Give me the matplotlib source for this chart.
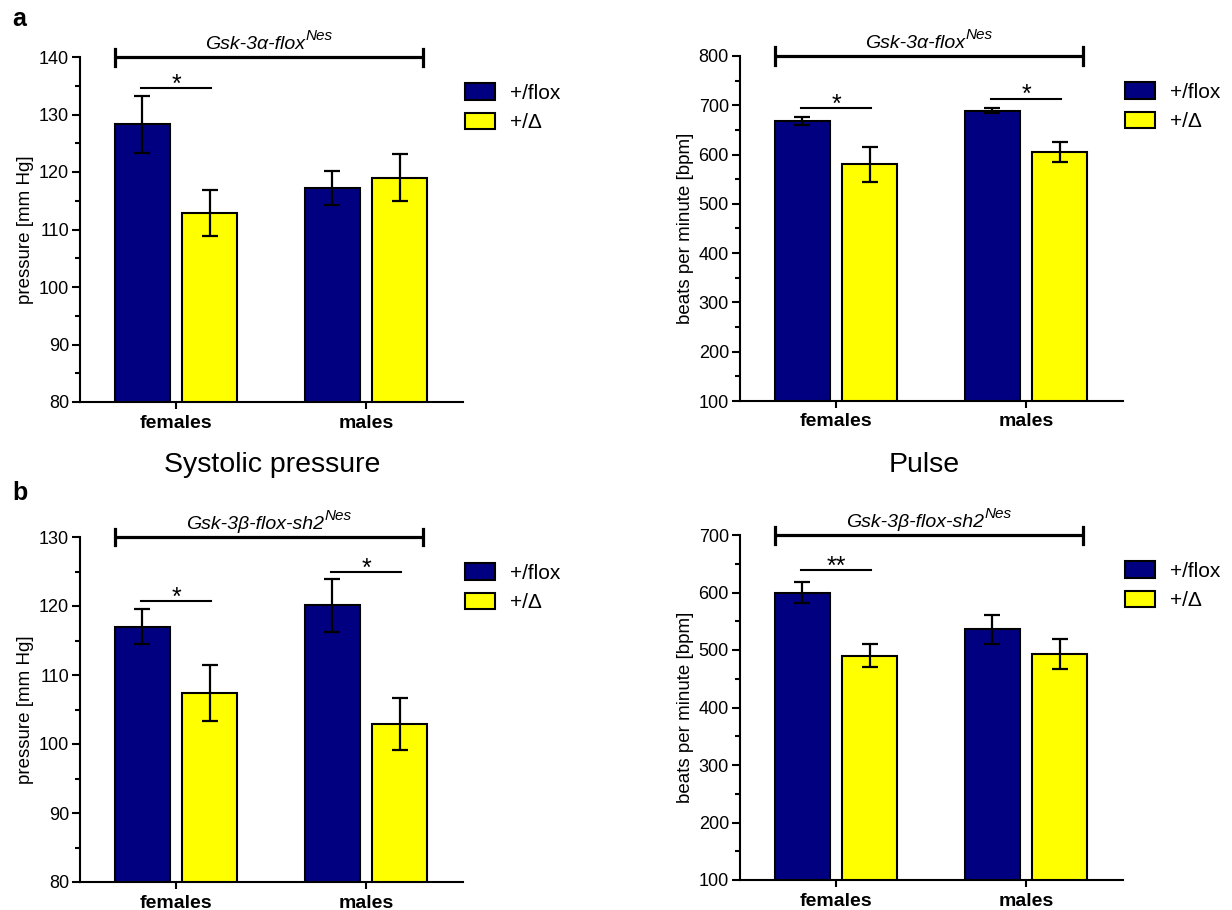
import matplotlib
matplotlib.use("Agg")
import matplotlib.pyplot as plt
from matplotlib.ticker import MultipleLocator

plt.rcParams["font.family"] = ["Liberation Sans", "DejaVu Sans"]

# ---- data -------------------------------------------------------------
groups = ["females", "males"]
genotypes = ["+/flox", "+/\u0394"]

# Gsk-3alpha-flox^Nes : systolic pressure [mm Hg]
sys_a_flox = [128.3, 117.2]
sys_a_flox_sem = [5.0, 3.0]
sys_a_del = [112.9, 119.0]
sys_a_del_sem = [4.0, 4.1]

# Gsk-3alpha-flox^Nes : pulse [bpm]
pulse_a_flox = [668, 689]
pulse_a_flox_sem = [9, 5]
pulse_a_del = [580, 605]
pulse_a_del_sem = [36, 21]

# Gsk-3beta-flox-sh2^Nes : systolic pressure [mm Hg]
sys_b_flox = [117.0, 120.1]
sys_b_flox_sem = [2.5, 3.8]
sys_b_del = [107.4, 102.9]
sys_b_del_sem = [4.1, 3.8]

# Gsk-3beta-flox-sh2^Nes : pulse [bpm]
pulse_b_flox = [600, 536]
pulse_b_flox_sem = [18, 25]
pulse_b_del = [490, 493]
pulse_b_del_sem = [20, 26]

# significance marks: (group index, height of the line, label)
sig_a_sys = [(0, 134.6, "*")]
sig_a_pulse = [(0, 694, "*"), (1, 713, "*")]
sig_b_sys = [(0, 120.7, "*"), (1, 124.9, "*")]
sig_b_pulse = [(0, 639, "**")]

line_a = "Gsk-3\u03b1-flox"
line_b = "Gsk-3\u03b2-flox-sh2"
line_sup = "Nes"

# ---- styling ----------------------------------------------------------
NAVY = "#000080"
YELLOW = "#FFFF00"
BAR_W = 0.29
OFFSET = 0.177
LW = 1.5

fig = plt.figure(figsize=(12.32, 9.10), dpi=100)
W, H = 1232, 910


def axes_at(left_px, top_px, width_px, height_px):
    return fig.add_axes([left_px / W, 1 - (top_px + height_px) / H,
                         width_px / W, height_px / H])


def draw_panel(ax, flox, flox_sem, dele, dele_sem, ylim, major, minor,
               ylabel, sigs, strain):
    x = list(range(len(groups)))
    xf = [v - OFFSET for v in x]
    xd = [v + OFFSET for v in x]
    b1 = ax.bar(xf, flox, width=BAR_W, color=NAVY, edgecolor="black",
                linewidth=LW, label=genotypes[0], zorder=2)
    b2 = ax.bar(xd, dele, width=BAR_W, color=YELLOW, edgecolor="black",
                linewidth=LW, label=genotypes[1], zorder=2)
    for xs, ys, es in ((xf, flox, flox_sem), (xd, dele, dele_sem)):
        ax.errorbar(xs, ys, yerr=es, fmt="none", ecolor="black",
                    elinewidth=1.6, capsize=5.5, capthick=1.6, zorder=3)

    ax.set_xlim(-0.505, 1.51)
    ax.set_ylim(*ylim)
    ax.yaxis.set_major_locator(MultipleLocator(major))
    ax.yaxis.set_minor_locator(MultipleLocator(minor))
    ax.set_xticks(x)
    ax.set_xticklabels(groups, fontweight="bold", fontsize=14)
    for s in ("top", "right"):
        ax.spines[s].set_visible(False)
    for s in ("left", "bottom"):
        ax.spines[s].set_linewidth(LW)
    ax.tick_params(axis="y", which="major", length=6, width=LW,
                   labelsize=13, pad=2, color="black")
    ax.tick_params(axis="y", which="minor", length=3.5, width=LW)
    ax.tick_params(axis="x", length=5, width=LW, pad=4)
    ax.set_ylabel(ylabel, fontsize=13.5)
    ax.yaxis.set_label_coords(-0.12, 0.5)

    # strain bracket spanning both groups at the top of the axis
    ytop = ylim[1]
    x0, x1 = -0.32, 1.30
    ax.plot([x0, x1], [ytop, ytop], color="black", lw=2.3,
            clip_on=False, solid_capstyle="butt", zorder=4)
    span = (ylim[1] - ylim[0]) * 8.5 / 345
    for xe in (x0, x1):
        ax.plot([xe, xe], [ytop - span, ytop + span], color="black",
                lw=2.3, clip_on=False, zorder=4)
    t = ax.annotate(strain, xy=((x0 + x1) / 2, ytop), xycoords="data",
                    xytext=(-10, 6), textcoords="offset points",
                    ha="center", va="baseline", fontsize=14,
                    style="italic", annotation_clip=False)
    ax.annotate(line_sup, xy=(1, 0), xycoords=t, xytext=(0.5, 9),
                textcoords="offset points", ha="left", va="baseline",
                fontsize=11, style="italic", annotation_clip=False)

    # significance lines
    for gi, yv, lab in sigs:
        ax.plot([gi - 0.185, gi + 0.185], [yv, yv], color="black",
                lw=1.5, zorder=4, clip_on=False)
        ax.annotate(lab, xy=(gi, yv), xytext=(0, -2.5),
                    textcoords="offset points", ha="center",
                    va="baseline", fontsize=18, annotation_clip=False)

    ax.legend(handles=[b1, b2], loc="upper left",
              bbox_to_anchor=(1.005, 0.9245), frameon=False,
              borderpad=0, borderaxespad=0, fontsize=15,
              handlelength=1.44, handleheight=0.84, handletextpad=0.72,
              labelspacing=0.5)


ax1 = axes_at(80, 57, 383, 345)
draw_panel(ax1, sys_a_flox, sys_a_flox_sem, sys_a_del, sys_a_del_sem,
           (80, 140), 10, 5, "pressure [mm Hg]", sig_a_sys, line_a)

ax2 = axes_at(740, 56, 383, 345)
draw_panel(ax2, pulse_a_flox, pulse_a_flox_sem, pulse_a_del,
           pulse_a_del_sem, (100, 800), 100, 50, "beats per minute [bpm]",
           sig_a_pulse, line_a)

ax3 = axes_at(80, 537, 383, 345)
draw_panel(ax3, sys_b_flox, sys_b_flox_sem, sys_b_del, sys_b_del_sem,
           (80, 130), 10, 5, "pressure [mm Hg]", sig_b_sys, line_b)

ax4 = axes_at(740, 535, 383, 345)
draw_panel(ax4, pulse_b_flox, pulse_b_flox_sem, pulse_b_del,
           pulse_b_del_sem, (100, 700), 100, 50, "beats per minute [bpm]",
           sig_b_pulse, line_b)

fig.text(272.5 / W, 1 - 465 / H, "Systolic pressure", fontsize=20.5,
         ha="center", va="center")
fig.text(924 / W, 1 - 465 / H, "Pulse", fontsize=20.5,
         ha="center", va="center")
fig.text(19 / W, 1 - 19 / H, "a", fontsize=18, fontweight="bold",
         ha="center", va="center")
fig.text(20 / W, 1 - 493 / H, "b", fontsize=18, fontweight="bold",
         ha="center", va="center")

fig.savefig("out.png", dpi=100, facecolor="white")
